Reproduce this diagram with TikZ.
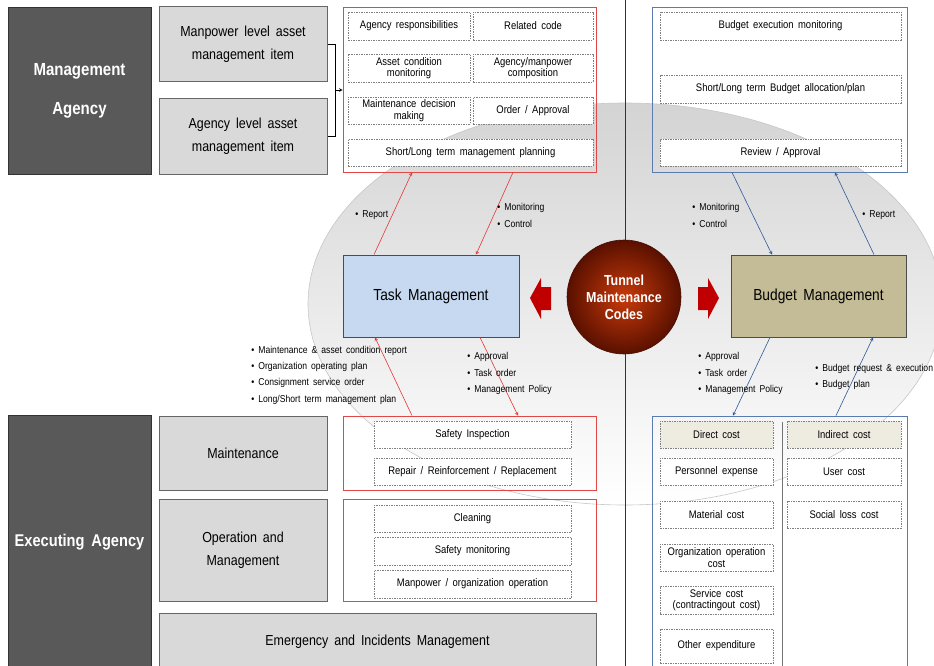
\documentclass[tikz,border=0pt]{standalone}
\usepackage{fontspec}
\setmainfont{Liberation Sans}[FakeStretch=0.86, WordSpace=1.7]
\usetikzlibrary{arrows}

\definecolor{boxred}{HTML}{E04848}
\definecolor{boxblue}{HTML}{5B7BB0}
\definecolor{linkred}{HTML}{E53838}
\definecolor{linkblue}{HTML}{2F5A98}
\definecolor{taskblue}{HTML}{C6D9F0}
\definecolor{budgetkhaki}{HTML}{C4BC96}
\definecolor{costkhaki}{HTML}{EEECE1}
\definecolor{blockred}{HTML}{C00000}
\definecolor{coreinner}{HTML}{C83A0A}
\definecolor{coreouter}{HTML}{5A1000}

\begin{document}
\begin{tikzpicture}
            [x=1pt, y=-1pt, >=stealth, semithick,
             agency/.style={draw=black!80, fill=black!65, text=white, align=center},
             level/.style={draw=black!60, fill=black!15, line width=1pt, align=center, font=\fontsize{14.5}{23}\selectfont},
             group/.style={draw=boxred, line width=0.8pt},
             bgroup/.style={draw=boxblue, line width=0.8pt},
             item/.style={draw=black!50, dashed, dash pattern=on 1.5pt off 1pt, line width=0.5pt, fill=white, align=center, inner sep=1pt, font=\fontsize{11}{11.5}\selectfont},
             mgmt/.style={draw=black!70, line width=0.8pt, font=\fontsize{16}{18}\selectfont},
             note/.style={anchor=west, align=left, inner sep=0pt, font=\fontsize{10}{16.3}\selectfont},
             redlink/.style={->, linkred, line width=0.6pt},
             bluelink/.style={->, linkblue, line width=0.6pt}]
            \useasboundingbox (0,0) rectangle (934,666);

            % background ellipse and divider
            \path[top color=black!17, middle color=black!7, bottom color=white, draw=black!22] (625,304) ellipse [x radius=317, y radius=201];
            \draw[black!80, line width=0.7pt] (625,0) -- (625,670);

            % management agency side
            \node[agency, minimum width=143, minimum height=167, font=\fontsize{17.5}{39}\selectfont\bfseries] (mgmtagency) at (79.5, 90.5) {Management\\Agency};
            \node[level, minimum width=168, minimum height=75] (manpower) at (243, 44.5) {Manpower level asset\\management item};
            \node[level, minimum width=168, minimum height=75] (agencylvl) at (243, 136.5) {Agency level asset\\management item};

            \node[group, minimum width=253, minimum height=165] (taskgrp) at (469.5, 89.5) {};
            \node[item, minimum width=122, minimum height=28] (resp) at (409, 26) {Agency responsibilities};
            \node[item, minimum width=120, minimum height=28] (code) at (533, 26) {Related code};
            \node[item, minimum width=122, minimum height=28] (cond) at (409, 68) {Asset condition\\monitoring};
            \node[item, minimum width=120, minimum height=28] (comp) at (533, 68) {Agency/manpower\\composition};
            \node[item, minimum width=122, minimum height=27] (decision) at (409, 110.5) {Maintenance decision\\making};
            \node[item, minimum width=120, minimum height=27] (order) at (533, 110.5) {Order / Approval};
            \node[item, minimum width=245, minimum height=27] (planning) at (470.5, 152.5) {Short/Long term management planning};

            \coordinate (brk) at (335, 90);
            \draw[black, line width=0.6pt] (manpower.east) -- ++(8,0) |- (agencylvl.east);
            \draw[->, black, line width=0.6pt] (brk) -- (brk -| taskgrp.west);

            \node[bgroup, minimum width=255, minimum height=165] (budgrp) at (779.5, 89.5) {};
            \node[item, minimum width=241, minimum height=28] (execmon) at (780.5, 26) {Budget execution monitoring};
            \node[item, minimum width=241, minimum height=28] (alloc) at (780.5, 89) {Short/Long term Budget allocation/plan};
            \node[item, minimum width=241, minimum height=27] (review) at (780.5, 152.5) {Review / Approval};

            % center
            \node[mgmt, fill=taskblue, minimum width=176, minimum height=82] (task) at (431, 296) {Task Management};
            \node[mgmt, fill=budgetkhaki, minimum width=175, minimum height=82] (budget) at (818.5, 296) {Budget Management};
            \node[circle, minimum size=114, inner color=coreinner, outer color=coreouter, draw=coreouter!80!black, text=white, align=center, font=\fontsize{14.5}{17}\selectfont\bfseries] (codes) at (624, 297) {Tunnel\\Maintenance\\Codes};
            \fill[blockred] (530,298) -- (541,278) -- (541,287) -- (551,287) -- (551,310) -- (541,310) -- (541,319) -- cycle;
            \fill[blockred] (719,298) -- (708,278) -- (708,287) -- (698,287) -- (698,310) -- (708,310) -- (708,319) -- cycle;

            % executing agency side
            \node[agency, minimum width=143, minimum height=255, font=\fontsize{17}{20}\selectfont\bfseries] (execagency) at (79.5, 542.5) {Executing Agency};
            \node[level, minimum width=168, minimum height=74] (maint) at (243, 453) {Maintenance};
            \node[level, minimum width=168, minimum height=102] (operation) at (243, 550) {Operation and\\Management};
            \node[level, minimum width=437, minimum height=57] (emergency) at (377.5, 641.5) {Emergency and Incidents Management};

            \node[group, minimum width=253, minimum height=74] (maintgrp) at (469.5, 453) {};
            \node[item, minimum width=197, minimum height=27] (inspect) at (472.5, 434.5) {Safety Inspection};
            \node[item, minimum width=197, minimum height=27] (repair) at (472.5, 471.5) {Repair / Reinforcement / Replacement};
            \node[group, minimum width=253, minimum height=102] (opgrp) at (469.5, 550) {};
            \node[item, minimum width=197, minimum height=27] (cleaning) at (472.5, 518.5) {Cleaning};
            \node[item, minimum width=197, minimum height=28] (safemon) at (472.5, 551) {Safety monitoring};
            \node[item, minimum width=197, minimum height=28] (orgop) at (472.5, 584) {Manpower / organization operation};

            \node[bgroup, minimum width=255, minimum height=258] (costgrp) at (779.5, 545) {};
            \draw[black!55, line width=1pt] (782,422) -- (782,670);
            \node[item, fill=costkhaki, minimum width=113, minimum height=27] (direct) at (716.5, 434.5) {Direct cost};
            \node[item, minimum width=113, minimum height=27] (personnel) at (716.5, 471.5) {Personnel expense};
            \node[item, minimum width=113, minimum height=27] (material) at (716.5, 514.5) {Material cost};
            \node[item, minimum width=113, minimum height=27] (orgcost) at (716.5, 557.5) {Organization operation\\cost};
            \node[item, minimum width=113, minimum height=28] (service) at (716.5, 600) {Service cost\\(contractingout cost)};
            \node[item, minimum width=113, minimum height=34] (other) at (716.5, 646) {Other expenditure};
            \node[item, fill=costkhaki, minimum width=114, minimum height=27] (indirect) at (844, 434.5) {Indirect cost};
            \node[item, minimum width=114, minimum height=27] (user) at (844, 471.5) {User cost};
            \node[item, minimum width=114, minimum height=27] (social) at (844, 514.5) {Social loss cost};

            % links
            \path[redlink] ([xshift=-57pt]task.north) edge ([xshift=-57.5pt]taskgrp.south);
            \path[redlink] ([xshift=43.5pt]taskgrp.south) edge ([xshift=45pt]task.north);
            \path[redlink] ([xshift=-57.5pt]maintgrp.north) edge ([xshift=-56pt]task.south);
            \path[redlink] ([xshift=49pt]task.south) edge ([xshift=48.5pt]maintgrp.north);
            \path[bluelink] ([xshift=-47.5pt]budgrp.south) edge ([xshift=-46.5pt]budget.north);
            \path[bluelink] ([xshift=55.5pt]budget.north) edge ([xshift=55.5pt]budgrp.south);
            \path[bluelink] ([xshift=-48.5pt]budget.south) edge ([xshift=-46.5pt]costgrp.north);
            \path[bluelink] ([xshift=56.5pt]costgrp.north) edge ([xshift=54.5pt]budget.south);

            \node[note] (reportl) at (355, 215) {• Report};
            \node[note] (monitorl) at (497, 215.5) {• Monitoring\\• Control};
            \node[note] (monitorr) at (692, 215.5) {• Monitoring\\• Control};
            \node[note] (reportr) at (862, 215) {• Report};
            \node[note] (reportsl) at (251, 375) {• Maintenance \& asset condition report\\• Organization operating plan\\• Consignment service order\\• Long/Short term management plan};
            \node[note] (orderl) at (467, 373.5) {• Approval\\• Task order\\• Management Policy};
            \node[note] (orderr) at (698, 373.5) {• Approval\\• Task order\\• Management Policy};
            \node[note] (requestr) at (815, 377) {• Budget request \& execution\\• Budget plan};
        \end{tikzpicture}
\end{document}
